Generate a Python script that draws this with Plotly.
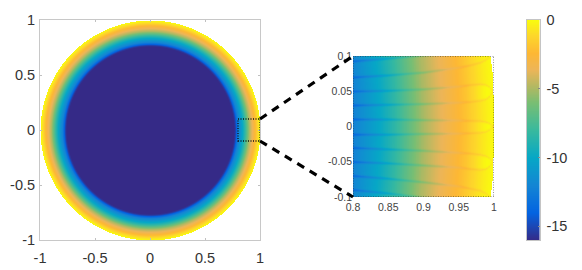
import numpy as np
import plotly.graph_objects as go

W, H = 582, 270

# ---- data ----
PARULA_POS = [0.0, 0.125, 0.25, 0.375, 0.5, 0.625, 0.6875, 0.775, 0.85, 0.931, 1.0]
PARULA = ['#352a87', '#0363e1', '#1485d4', '#06a7c6', '#38b99e', '#78be73',
          '#aab964', '#ecb558', '#fdb734', '#fdd72a', '#f9fb0e']
RADII = [0.0, 0.76, 0.77, 0.78, 0.79, 0.80, 0.82, 0.84, 0.86, 0.88, 0.90, 0.92, 0.94, 0.95, 0.96, 0.97, 0.98, 0.99, 1.0]
VALUES = [-16, -16, -15.5, -14.4, -13.2, -12.2, -11.0, -9.8, -8.3, -6.6, -5.0, -3.9, -2.9, -2.4, -1.9, -1.3, -0.8, -0.35, 0]

MAJOR_TICKS = [-1, -0.5, 0, 0.5, 1]
MAJOR_LABELS = ['-1', '-0.5', '0', '0.5', '1']
ZOOM_X_TICKS = [0.8, 0.85, 0.9, 0.95, 1]
ZOOM_X_LABELS = ['0.8', '0.85', '0.9', '0.95', '1']
ZOOM_Y_TICKS = [-0.1, -0.05, 0, 0.05, 0.1]
ZOOM_Y_LABELS = ['-0.1', '-0.05', '0', '0.05', '0.1']
CBAR_TICKS = [-15, -10, -5, 0]
CBAR_LABELS = ['-15', '-10', '-5', '0']

# streak centre-lines in the zoomed panel: x samples and y of every streak
STREAK_X = [0.80, 0.85, 0.90, 0.95, 0.965, 0.98, 0.988, 0.993, 0.998]
STREAKS = [
    [0.093, 0.097, 0.1015, 0.106, 0.108, 0.110, 0.111, 0.112, 0.113],
    [0.070, 0.073, 0.077, 0.084, 0.087, 0.091, 0.095, 0.099, 0.105],
    [0.050, 0.051, 0.053, 0.057, 0.059, 0.060, 0.059, 0.056, 0.050],
    [0.030, 0.031, 0.032, 0.034, 0.035, 0.037, 0.039, 0.043, 0.050],
    [0.010, 0.010, 0.009, 0.0085, 0.008, 0.0075, 0.006, 0.004, 0.000],
    [-0.011, -0.011, -0.010, -0.0095, -0.009, -0.008, -0.0065, -0.004, 0.000],
    [-0.030, -0.032, -0.034, -0.037, -0.038, -0.040, -0.042, -0.045, -0.050],
    [-0.050, -0.052, -0.055, -0.058, -0.060, -0.061, -0.060, -0.056, -0.050],
    [-0.070, -0.074, -0.079, -0.085, -0.088, -0.091, -0.095, -0.099, -0.105],
    [-0.090, -0.095, -0.101, -0.106, -0.108, -0.110, -0.111, -0.112, -0.113],
]
STREAK_DEPTH_X = [0.80, 0.88, 0.95, 1.0]
STREAK_DEPTH = [1.4, 0.95, 0.6, 0.5]
HAIRPINS = [(2, 3), (4, 5), (6, 7)]   # pairs of streaks enclosing a brighter lobe
LOBE_X = [0.96, 0.975, 0.985, 1.0]
LOBE_GAIN = [0.0, 0.15, 0.3, 0.35]

# ---- image tables built from the lists ----
colorscale = [[p, c] for p, c in zip(PARULA_POS, PARULA)]
CMIN, CMAX = -16, 0

gx = np.linspace(-1, 1, 441)
X, Y = np.meshgrid(gx, gx)
R = np.hypot(X, Y)
disk = np.interp(R, RADII, VALUES)
disk[R > 1] = np.nan

zx = np.linspace(0.8, 1, 201)
zy = np.linspace(-0.1, 0.1, 281)
ZX, ZY = np.meshgrid(zx, zy)
ZR = np.hypot(ZX, ZY)
zoom = np.interp(ZR, RADII, VALUES)
tracks = [np.interp(zx, STREAK_X, s) for s in STREAKS]
for a, b in HAIRPINS:
    inside = (ZY >= np.minimum(tracks[a], tracks[b])) & (ZY <= np.maximum(tracks[a], tracks[b]))
    zoom = zoom + inside * np.interp(ZX, LOBE_X, LOBE_GAIN)
depth = np.interp(zx, STREAK_DEPTH_X, STREAK_DEPTH)
for t in tracks:
    zoom = zoom - depth * np.exp(-((ZY - t) / 0.002) ** 2)
zoom = np.clip(zoom, CMIN, CMAX)
zoom[ZR > 1] = np.nan

bar_levels = np.linspace(CMIN, CMAX, 221)

# ---- layout in pixels ----
def dom_x(a, b):
    return [a / W, b / W]

def dom_y(top, bottom):
    return [1 - bottom / H, 1 - top / H]

DX1, DY1 = dom_x(40, 260), dom_y(20, 240)
DX2, DY2 = dom_x(353, 494), dom_y(56, 197)
DX3, DY3 = dom_x(527, 539.5), dom_y(20, 240)

fig = go.Figure()
fig.add_trace(go.Heatmap(x=gx, y=gx, z=disk, xaxis='x', yaxis='y', colorscale=colorscale,
                         zmin=CMIN, zmax=CMAX, zsmooth='best', showscale=False, hoverinfo='skip'))
fig.add_trace(go.Heatmap(x=zx, y=zy, z=zoom, xaxis='x2', yaxis='y2', colorscale=colorscale,
                         zmin=CMIN, zmax=CMAX, zsmooth='best', showscale=False, hoverinfo='skip'))
fig.add_trace(go.Heatmap(x=[0, 1], y=bar_levels, z=np.column_stack([bar_levels, bar_levels]),
                         xaxis='x3', yaxis='y3', colorscale=colorscale,
                         zmin=CMIN, zmax=CMAX, showscale=False, hoverinfo='skip'))

ax_big = dict(range=[-1, 1], tickmode='array', showgrid=False, zeroline=False, showline=True, automargin=False,
              linecolor='#c8c8c8', linewidth=1, mirror='ticks', ticks='inside', ticklen=2,
              tickcolor='#c0c0c0', tickfont=dict(family='Liberation Sans', size=14.5, color='#333333'))
ax_small = dict(tickmode='array', showgrid=False, zeroline=False, showline=False, ticks='', automargin=False,
                tickfont=dict(family='Liberation Sans', size=10.5, color='#444444'))

fig.update_layout(
    width=W, height=H, autosize=False, margin=dict(l=0, r=0, t=0, b=0),
    paper_bgcolor='white', plot_bgcolor='white', showlegend=False,
    xaxis=dict(ax_big, domain=DX1, anchor='y', tickvals=MAJOR_TICKS, ticktext=MAJOR_LABELS, ticklabelstandoff=5),
    yaxis=dict(ax_big, domain=DY1, anchor='x', tickvals=MAJOR_TICKS, ticktext=MAJOR_LABELS, ticklabelstandoff=1),
    xaxis2=dict(ax_small, domain=DX2, anchor='y2', range=[0.8, 1], tickvals=ZOOM_X_TICKS, ticktext=ZOOM_X_LABELS, ticklabelstandoff=2),
    yaxis2=dict(ax_small, domain=DY2, anchor='x2', range=[-0.1, 0.1], tickvals=ZOOM_Y_TICKS, ticktext=ZOOM_Y_LABELS),
    xaxis3=dict(domain=DX3, anchor='y3', range=[0, 1], showticklabels=False, ticks='', showgrid=False, automargin=False,
                zeroline=False, showline=True, linecolor='#c4c4c4', linewidth=1, mirror=True),
    yaxis3=dict(domain=DY3, anchor='x3', side='right', range=[CMIN, CMAX], tickmode='array', automargin=False,
                tickvals=CBAR_TICKS, ticktext=CBAR_LABELS, ticks='inside', ticklen=2, tickcolor='#888888',
                showgrid=False, zeroline=False, showline=True, linecolor='#c4c4c4', linewidth=1, mirror=True,
                ticklabelstandoff=3,
                tickfont=dict(family='Liberation Sans', size=14.5, color='#333333')),
)

# paper coordinates of a data point on each panel
def big_xy(x, y):
    return (DX1[0] + (x + 1) / 2 * (DX1[1] - DX1[0]), DY1[0] + (y + 1) / 2 * (DY1[1] - DY1[0]))

def small_xy(x, y):
    return (DX2[0] + (x - 0.8) / 0.2 * (DX2[1] - DX2[0]), DY2[0] + (y + 0.1) / 0.2 * (DY2[1] - DY2[0]))

fig.add_shape(type='rect', xref='x', yref='y', x0=0.8, x1=1, y0=-0.1, y1=0.1,
              line=dict(color='#111111', width=1.3, dash='1px,1.5px'), layer='above')
fig.add_shape(type='rect', xref='x2', yref='y2', x0=0.8, x1=1, y0=-0.1, y1=0.1,
              line=dict(color='#333333', width=1, dash='1px,1.5px'), layer='above')
for yv in (0.1, -0.1):
    a = big_xy(1, yv)
    b = small_xy(0.8, yv)
    fig.add_shape(type='line', xref='paper', yref='paper', x0=a[0], y0=a[1], x1=b[0], y1=b[1],
                  line=dict(color='black', width=3.2, dash='8px,6.5px'), layer='above')

fig.write_html('out.html', config={'displayModeBar': False},
               post_script="document.body.style.margin='0';document.body.style.overflow='hidden';")
